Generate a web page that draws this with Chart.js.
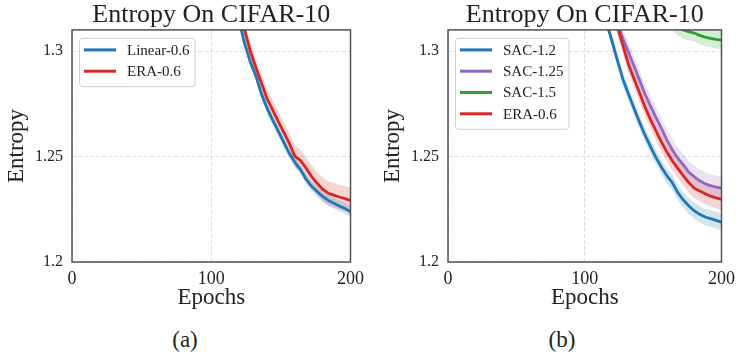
<!DOCTYPE html>
<html>
<head>
<meta charset="utf-8">
<script src="https://cdn.jsdelivr.net/npm/chart.js@4.4.1/dist/chart.umd.min.js"></script>
<style>
  body { margin: 0; background: #fff; width: 741px; height: 356px; position: relative; overflow: hidden; }
  canvas { position: absolute; top: 0; }
  #chartA { left: 0; }
  #chartB { left: 376px; }
  .cap { position: absolute; top: 327px; width: 60px; text-align: center; font: 23px/26px "Liberation Serif", serif; color: #222; }
</style>
</head>
<body>
<canvas id="chartA" width="370" height="314"></canvas>
<canvas id="chartB" width="365" height="314"></canvas>
<div class="cap" style="left:155px">(a)</div>
<div class="cap" style="left:532px">(b)</div>
<script>
  // eixos
  const epochs = [116, 120, 124, 128, 132, 136, 140, 144, 148, 152, 156, 160, 164, 168, 172, 176, 180, 184, 188, 192, 196, 200];
  const xTickValues = [0, 100, 200];
  const xTickLabels = ['0', '100', '200'];
  const yTickValues = [1.2, 1.25, 1.3];
  const yTickLabels = ['1.2', '1.25', '1.3'];

  // painel (a)
  const linear06 = [1.3250, 1.3142, 1.3035, 1.2949, 1.2883, 1.2797, 1.2730, 1.2674, 1.2621, 1.2568, 1.2515, 1.2473, 1.2438, 1.2393, 1.2359, 1.2334, 1.2311, 1.2292, 1.2279, 1.2265, 1.2254, 1.2238];
  const linear06Std = [0.0020, 0.0020, 0.0021, 0.0020, 0.0021, 0.0022, 0.0021, 0.0022, 0.0023, 0.0022, 0.0023, 0.0024, 0.0023, 0.0024, 0.0025, 0.0024, 0.0025, 0.0026, 0.0025, 0.0026, 0.0027, 0.0026];
  const era06A = [1.3320, 1.3210, 1.3099, 1.3000, 1.2923, 1.2850, 1.2775, 1.2722, 1.2668, 1.2616, 1.2563, 1.2502, 1.2482, 1.2446, 1.2406, 1.2373, 1.2345, 1.2326, 1.2317, 1.2308, 1.2300, 1.2292];
  const era06AStd = [0.0040, 0.0041, 0.0042, 0.0042, 0.0044, 0.0045, 0.0046, 0.0046, 0.0048, 0.0049, 0.0050, 0.0051, 0.0052, 0.0052, 0.0054, 0.0055, 0.0056, 0.0057, 0.0057, 0.0058, 0.0060, 0.0060];

  // painel (b)
  const sac12 = [1.3133, 1.3045, 1.2953, 1.2864, 1.2796, 1.2729, 1.2664, 1.2602, 1.2548, 1.2496, 1.2450, 1.2409, 1.2377, 1.2330, 1.2295, 1.2266, 1.2243, 1.2226, 1.2213, 1.2206, 1.2197, 1.2189];
  const sac12Std = [0.0030, 0.0030, 0.0031, 0.0031, 0.0032, 0.0032, 0.0033, 0.0033, 0.0034, 0.0034, 0.0035, 0.0035, 0.0036, 0.0036, 0.0037, 0.0037, 0.0038, 0.0038, 0.0039, 0.0039, 0.0040, 0.0040];
  const sac125 = [1.3280, 1.3205, 1.3132, 1.3057, 1.2994, 1.2929, 1.2862, 1.2796, 1.2740, 1.2685, 1.2634, 1.2579, 1.2532, 1.2492, 1.2461, 1.2426, 1.2405, 1.2385, 1.2371, 1.2362, 1.2355, 1.2350];
  const sac125Std = [0.0045, 0.0045, 0.0046, 0.0046, 0.0047, 0.0047, 0.0048, 0.0048, 0.0049, 0.0049, 0.0050, 0.0050, 0.0051, 0.0051, 0.0052, 0.0052, 0.0053, 0.0053, 0.0054, 0.0054, 0.0055, 0.0055];
  const sac15 = [null, null, null, null, null, null, null, null, null, null, null, 1.3175, 1.3140, 1.3115, 1.3100, 1.3092, 1.3085, 1.3074, 1.3066, 1.3060, 1.3055, 1.3051];
  const sac15Std = [null, null, null, null, null, null, null, null, null, null, null, 0.0040, 0.0040, 0.0040, 0.0041, 0.0041, 0.0041, 0.0042, 0.0042, 0.0042, 0.0043, 0.0043];
  const era06B = [1.3300, 1.3206, 1.3114, 1.3024, 1.2936, 1.2868, 1.2802, 1.2736, 1.2676, 1.2622, 1.2569, 1.2522, 1.2480, 1.2444, 1.2409, 1.2377, 1.2350, 1.2337, 1.2323, 1.2312, 1.2304, 1.2297];
  const era06BStd = [0.0040, 0.0040, 0.0041, 0.0041, 0.0042, 0.0042, 0.0043, 0.0043, 0.0044, 0.0044, 0.0045, 0.0045, 0.0046, 0.0046, 0.0047, 0.0047, 0.0048, 0.0048, 0.0049, 0.0049, 0.0050, 0.0050];

  const BLUE = '31, 119, 180';
  const RED = '214, 39, 40';
  const PURPLE = '148, 103, 189';
  const GREEN = '44, 160, 44';
  const SERIF = '"Liberation Serif", "Times New Roman", serif';

  Chart.defaults.font.family = SERIF;
  Chart.defaults.color = '#222';

  /* moldura dos eixos + legenda estilo matplotlib */
  const moldura = {
    id: 'moldura',
    afterDraw(chart) {
      const { ctx, chartArea: a } = chart;
      ctx.save();
      ctx.strokeStyle = '#505050';
      ctx.lineWidth = 1.5;
      ctx.strokeRect(a.left, a.top, a.width, a.height);

      const itens = chart.data.datasets.filter(d => d.naLegenda);
      ctx.font = '15px ' + SERIF;
      const textW = Math.max(...itens.map(d => ctx.measureText(d.label).width));
      const x0 = a.left + 7, y0 = a.top + 8;
      const passo = 21.3;
      const w = 48 + textW + 5;
      const h = 12 + (itens.length - 1) * passo + 15;

      ctx.beginPath();
      ctx.roundRect(x0 + 0.5, y0 + 0.5, w, h, 3);
      ctx.fillStyle = 'rgba(255,255,255,0.85)';
      ctx.fill();
      ctx.strokeStyle = '#d0d0d0';
      ctx.lineWidth = 1;
      ctx.stroke();

      ctx.textBaseline = 'middle';
      ctx.textAlign = 'left';
      itens.forEach((d, i) => {
        const y = y0 + 12 + i * passo;
        ctx.strokeStyle = d.borderColor;
        ctx.lineWidth = 3;
        ctx.beginPath();
        ctx.moveTo(x0 + 5, y);
        ctx.lineTo(x0 + 37, y);
        ctx.stroke();
        ctx.fillStyle = '#222';
        ctx.fillText(d.label, x0 + 48, y + 1);
      });
      ctx.restore();
    }
  };

  function faixa(media, desvio, cor, alpha) {
    const inf = media.map((v, i) => v == null ? null : v - desvio[i]);
    const sup = media.map((v, i) => v == null ? null : v + desvio[i]);
    return [
      { data: inf, borderColor: 'rgba(0,0,0,0)', borderWidth: 0.5, pointRadius: 0, fill: false, order: 20 },
      { data: sup, borderColor: 'rgba(0,0,0,0)', borderWidth: 0.5, pointRadius: 0, fill: '-1',
        backgroundColor: 'rgba(' + cor + ',' + alpha + ')', order: 20 }
    ];
  }

  function linha(label, media, cor, ordem) {
    return { label, data: media, borderColor: 'rgb(' + cor + ')', borderWidth: 2.8, pointRadius: 0,
      fill: false, tension: 0, clip: 0, order: ordem, naLegenda: true };
  }

  function opcoes(padRight) {
    return {
      responsive: false,
      animation: false,
      events: [],
      layout: { padding: { left: 0, right: padRight, top: 0, bottom: 0 } },
      scales: {
        x: {
          type: 'linear', min: 0, max: 200,
          afterBuildTicks: s => { s.ticks = xTickValues.map(v => ({ value: v })); },
          afterFit: s => { s.height = 52; },
          ticks: { padding: 6, font: { size: 18 }, color: '#222', maxRotation: 0, autoSkip: false,
            callback: (v, i) => xTickLabels[i] },
          grid: { color: '#dedede', lineWidth: 1, drawTicks: false },
          border: { display: false, dash: [4, 2] },
          title: { display: true, text: 'Epochs', font: { size: 23 }, color: '#222', padding: { top: 0, bottom: 2 } }
        },
        y: {
          type: 'linear', min: 1.2, max: 1.31,
          afterBuildTicks: s => { s.ticks = yTickValues.map(v => ({ value: v })); },
          afterFit: s => { s.width = 72; },
          ticks: { padding: 9, font: { size: 16 }, color: '#222', callback: (v, i) => yTickLabels[i] },
          grid: { color: '#dedede', lineWidth: 1, drawTicks: false },
          border: { display: false, dash: [4, 2] },
          title: { display: true, text: 'Entropy', font: { size: 23 }, color: '#222', padding: { top: 3, bottom: 0 } }
        }
      },
      plugins: {
        legend: { display: false },
        tooltip: { enabled: false },
        title: {
          display: true, text: 'Entropy On CIFAR-10', fullSize: false, color: '#222',
          font: { size: 26, weight: 'normal', lineHeight: 1.15 }, padding: { top: 0, bottom: 0 }
        }
      }
    };
  }

  document.addEventListener('DOMContentLoaded', () => {
    new Chart(document.getElementById('chartA').getContext('2d'), {
      type: 'line',
      data: {
        labels: epochs,
        datasets: [
          ...faixa(linear06, linear06Std, BLUE, 0.2),
          ...faixa(era06A, era06AStd, RED, 0.2),
          linha('Linear-0.6', linear06, BLUE, 2),
          linha('ERA-0.6', era06A, RED, 1)
        ]
      },
      options: opcoes(19),
      plugins: [moldura]
    });

    new Chart(document.getElementById('chartB').getContext('2d'), {
      type: 'line',
      data: {
        labels: epochs,
        datasets: [
          ...faixa(sac12, sac12Std, BLUE, 0.2),
          ...faixa(sac125, sac125Std, PURPLE, 0.2),
          ...faixa(sac15, sac15Std, GREEN, 0.2),
          ...faixa(era06B, era06BStd, RED, 0.2),
          linha('SAC-1.2', sac12, BLUE, 4),
          linha('SAC-1.25', sac125, PURPLE, 3),
          linha('SAC-1.5', sac15, GREEN, 2),
          linha('ERA-0.6', era06B, RED, 1)
        ]
      },
      options: opcoes(14),
      plugins: [moldura]
    });
  });
</script>
</body>
</html>
